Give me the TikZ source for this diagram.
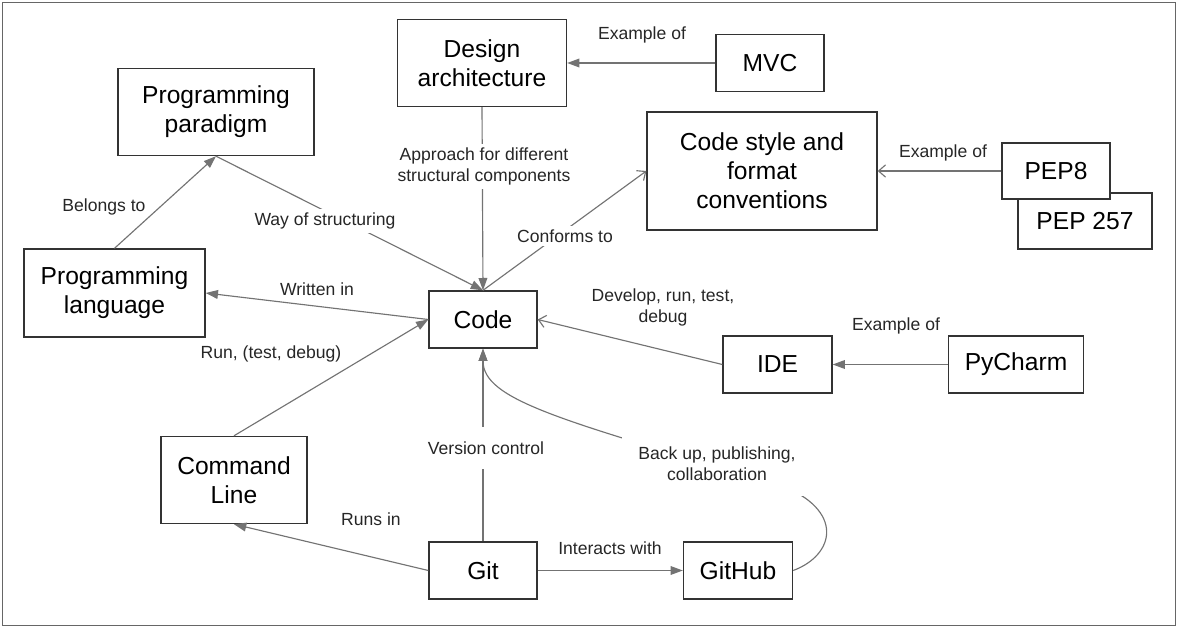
\documentclass[tikz,border=0pt]{standalone}
\usepackage{fontspec}
\setmainfont{Liberation Sans}
\usetikzlibrary{arrows.meta}

\tikzset{
	box/.style={draw=black!80, line width=0.8pt, fill=white, align=center, inner sep=0pt, font=\fontsize{14}{16.5}\selectfont},
	lbl/.style={align=center, inner sep=2pt, text=black!85, font=\fontsize{10}{11.8}\selectfont},
	arr/.style={draw=black!55, line width=0.65pt, -{Triangle[length=7pt,width=5pt]}},
	barb/.style={draw=black!55, line width=0.65pt, -{Straight Barb[length=4pt,width=7pt]}},
}

\begin{document}
\begin{tikzpicture}[x=0.02cm,y=-0.02cm]
		\useasboundingbox (0,0) rectangle (1178,628);
		\draw[black!60, line width=0.6pt] (2.5,2.5) rectangle (1175.5,625.5);
		\begin{scope}
			\node[box, minimum width=3.38cm, minimum height=1.74cm] (design) at (482,63) {Design\\architecture};
			\node[box, minimum width=2.16cm, minimum height=1.14cm] (mvc) at (770,63) {MVC};
			\node[box, minimum width=3.92cm, minimum height=1.74cm] (paradigm) at (216,112) {Programming\\paradigm};
			\node[box, minimum width=4.6cm, minimum height=2.36cm] (codestyle) at (762,171) {Code style and\\format\\conventions};
			\node[box, minimum width=2.68cm, minimum height=1.12cm] (pep257) at (1085,221) {PEP 257};
			\node[box, minimum width=2.16cm, minimum height=1.12cm] (pep8) at (1056,171) {PEP8};
			\node[box, minimum width=3.62cm, minimum height=1.76cm] (language) at (114.5,293) {Programming\\language};
			\node[box, minimum width=2.16cm, minimum height=1.14cm] (code) at (483,319.5) {Code};
			\node[box, minimum width=2.18cm, minimum height=1.14cm] (ide) at (777.5,364.5) {IDE};
			\node[box, minimum width=2.7cm, minimum height=1.14cm] (pycharm) at (1016,364.5) {PyCharm};
			\node[box, minimum width=2.92cm, minimum height=1.74cm] (cmdline) at (234,480) {Command\\Line};
			\node[box, minimum width=2.16cm, minimum height=1.14cm] (git) at (483,570.5) {Git};
			\node[box, minimum width=2.18cm, minimum height=1.14cm] (github) at (738,570.5) {GitHub};
		\end{scope}
		\begin{scope}
			\draw[arr] (mvc.west) -- (design.east);
			\draw[arr] (design.south) -- (code.north);
			\draw[arr] (language.north) -- (paradigm.south);
			\draw[arr] (paradigm.south) -- (code.north);
			\draw[barb] (code.north) -- (codestyle.west);
			\draw[arr] (code.west) -- (language.east);
			\draw[barb] (ide.west) -- (code.east);
			\draw[arr] (pycharm.west) -- (ide.east);
			\draw[barb] (pep8.west) -- (codestyle.east);
			\draw[arr] (cmdline.north) -- (code.west);
			\draw[arr] (git.north) -- (code.south);
			\draw[arr] (git.west) -- (cmdline.south);
			\draw[arr] (git.east) -- (github.west);
			\draw[arr] (github.east) .. controls (835,555) and (845,510) .. (780,485) .. controls (560,420) and (483,400) .. (code.south);
		\end{scope}
		\begin{scope}
			\node[lbl] (exmvc) at (642,35) {Example of};
			\node[lbl, fill=white] (approach) at (484,166.5) {Approach for different\\structural components};
			\node[lbl] (belongs) at (104,207) {Belongs to};
			\node[lbl, fill=white] (waystruct) at (325,221) {Way of structuring};
			\node[lbl, fill=white] (conforms) at (565,236) {Conforms to};
			\node[lbl] (expep) at (943,153) {Example of};
			\node[lbl] (written) at (317,289) {Written in};
			\node[lbl] (develop) at (663,307.5) {Develop, run, test,\\debug};
			\node[lbl] (expy) at (896,326) {Example of};
			\node[lbl] (run) at (271,354) {Run, (test, debug)};
			\node[lbl, fill=white, inner ysep=8.5pt] (version) at (486,448) {Version control};
			\node[lbl, fill=white, inner xsep=9.5pt, inner ysep=9pt] (backup) at (717,463.5) {Back up, publishing,\\collaboration};
			\node[lbl] (runsin) at (371,519) {Runs in};
			\node[lbl] (interacts) at (610,548) {Interacts with};
		\end{scope}
	\end{tikzpicture}
\end{document}
